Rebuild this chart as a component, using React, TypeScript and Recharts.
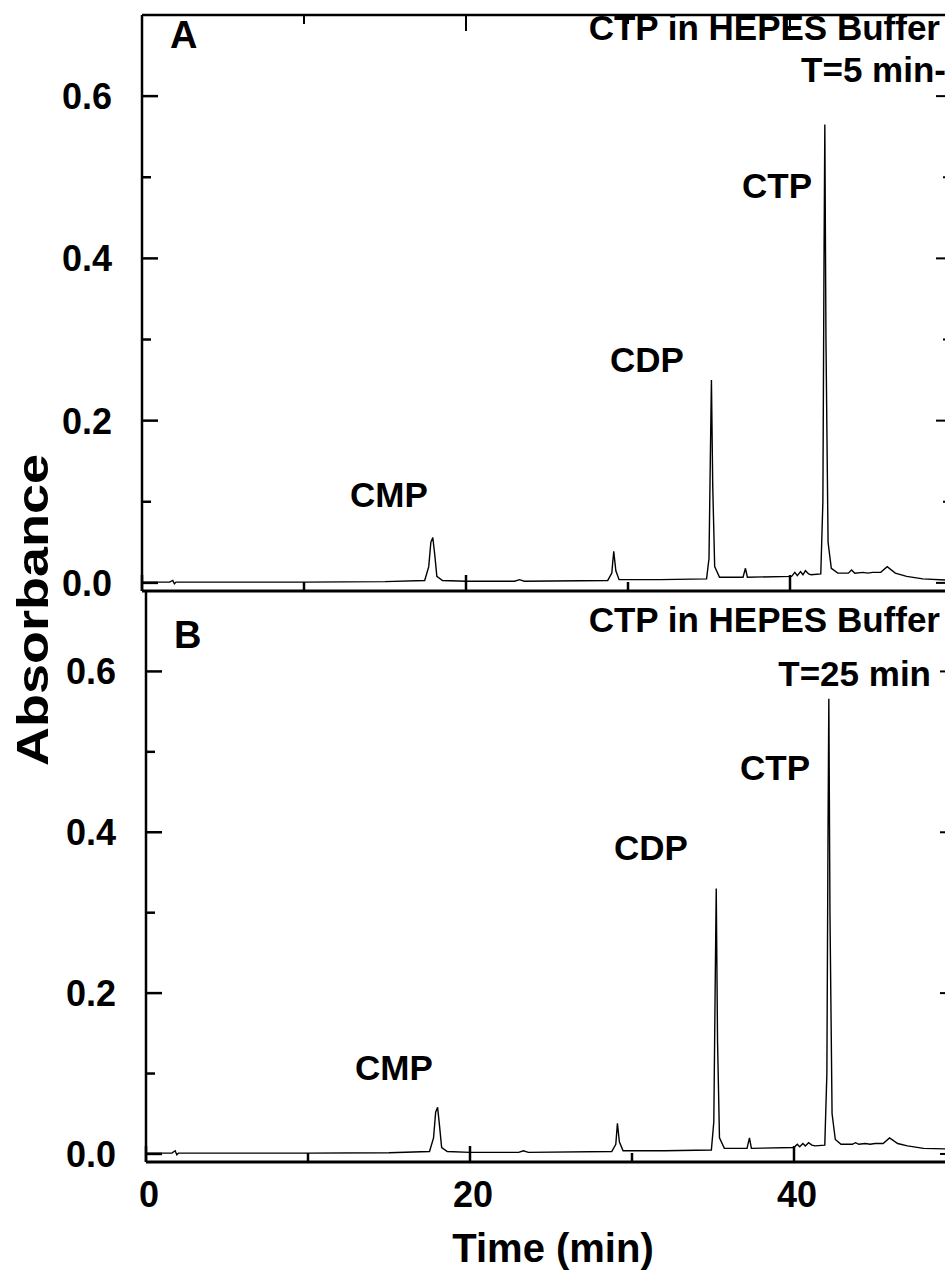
import React from 'react';
import { LineChart, Line, XAxis, YAxis, ReferenceLine } from 'recharts';

// ---- data: [time (min), absorbance] ----
const traceA: [number, number][] = [
  [0, 0.001], [1.7, 0.001], [1.9, 0.003], [2.0, -0.001], [2.1, 0.001], [2.3, 0.001],
  [5, 0.001], [10, 0.001], [15, 0.0015], [17.45, 0.003], [17.7, 0.02], [17.83, 0.05],
  [17.95, 0.056], [18.07, 0.035], [18.2, 0.008], [18.55, 0.003], [20, 0.002],
  [23.0, 0.002], [23.3, 0.004], [23.6, 0.002], [28.75, 0.003], [29.0, 0.012],
  [29.12, 0.039], [29.25, 0.015], [29.45, 0.004], [32, 0.004], [34.85, 0.005],
  [35.0, 0.03], [35.08, 0.15], [35.15, 0.25], [35.23, 0.12], [35.35, 0.02], [35.65, 0.007],
  [37.1, 0.007], [37.25, 0.018], [37.37, 0.007], [40.1, 0.008], [40.3, 0.013],
  [40.45, 0.009], [40.65, 0.014], [40.8, 0.01], [40.95, 0.015], [41.15, 0.011],
  [41.3, 0.01], [41.9, 0.011], [42.03, 0.1], [42.1, 0.4], [42.15, 0.565],
  [42.22, 0.3], [42.35, 0.05], [42.55, 0.018], [42.95, 0.012], [43.6, 0.012],
  [43.8, 0.016], [44.0, 0.012], [44.5, 0.013], [44.8, 0.012], [45.1, 0.013],
  [45.6, 0.013], [46.0, 0.02], [46.5, 0.012], [47.2, 0.008], [48.2, 0.005], [50.0, 0.003],
];

const traceB: [number, number][] = [
  [0, 0.001], [1.6, 0.001], [1.8, 0.004], [1.9, -0.001], [2.0, 0.001], [2.3, 0.001],
  [5, 0.001], [10, 0.001], [15, 0.0015], [17.5, 0.003], [17.75, 0.02], [17.88, 0.052],
  [18.0, 0.058], [18.12, 0.035], [18.25, 0.008], [18.6, 0.003], [20, 0.002],
  [23.0, 0.002], [23.3, 0.004], [23.6, 0.002], [28.75, 0.003], [29.0, 0.012],
  [29.1, 0.038], [29.22, 0.015], [29.45, 0.004], [32, 0.004], [34.9, 0.005],
  [35.05, 0.04], [35.13, 0.2], [35.2, 0.33], [35.28, 0.14], [35.4, 0.02], [35.7, 0.007],
  [37.1, 0.007], [37.25, 0.02], [37.37, 0.007], [40.0, 0.008], [40.2, 0.012],
  [40.35, 0.009], [40.55, 0.013], [40.7, 0.01], [40.9, 0.014], [41.1, 0.011],
  [41.3, 0.01], [41.9, 0.011], [42.03, 0.1], [42.1, 0.4], [42.15, 0.566],
  [42.22, 0.3], [42.35, 0.05], [42.55, 0.018], [42.9, 0.012], [43.6, 0.012],
  [43.8, 0.014], [44.0, 0.012], [44.4, 0.013], [44.7, 0.012], [45.0, 0.013],
  [45.5, 0.013], [45.9, 0.02], [46.4, 0.013], [47.0, 0.01], [48.0, 0.007], [50.0, 0.006],
];

const xMajorTicks = [0, 20, 40];
const xMinorTicks = [10, 30, 50];
const xTickLabels = ['0', '20', '40'];
const yMajorTicks = [0, 0.2, 0.4, 0.6];
const yMinorTicks = [0.1, 0.3, 0.5];
const yTickLabels = ['0.0', '0.2', '0.4', '0.6'];

const panelLetters = ['A', 'B'];
const panelTitles = ['CTP in HEPES Buffer', 'CTP in HEPES Buffer'];
const panelTimes = ['T=5 min-', 'T=25 min'];
const peakNames = ['CMP', 'CDP', 'CTP'];
const xTitle = 'Time (min)';
const yTitle = 'Absorbance';

// ---- layout ----
const W = 980;
const PX_PER_MIN = 16.2;
const PL_A = 142;
const PL_B = 146;
const A_TOP = 15;
const MID = 591;
const B_BOT = 1162;
const A_H = 640;
const PH_A = MID - A_TOP;
const PH_B = B_BOT - MID;
const YW = 60;
const XH = 5;
const FONT = "'Liberation Sans', Arial, Helvetica, sans-serif";
const X_DOMAIN: [number, number] = [0, 50];
const Y_DOMAIN: [number, number] = [-0.01, 0.7];
const PW = Math.round(PX_PER_MIN * (X_DOMAIN[1] - X_DOMAIN[0]));

const rowsA = traceA.map(([t, a]) => ({ t, a }));
const rowsB = traceB.map(([t, a]) => ({ t, a }));
const xTicks = [...xMajorTicks, ...xMinorTicks].sort((p, q) => p - q);
const yTicks = [...yMajorTicks, ...yMinorTicks].sort((p, q) => p - q);

const makeXTick = (ph: number, topTicks: boolean, labels: boolean) => (props: any) => {
  const { x, y, payload } = props;
  const v = payload.value;
  const mi = xMajorTicks.indexOf(v);
  const len = mi >= 0 ? 16 : 9;
  return (
    <g>
      <line x1={x} x2={x} y1={y} y2={y - len} stroke="#000" strokeWidth={2.5} />
      {topTicks && <line x1={x} x2={x} y1={y - ph} y2={y - ph + len} stroke="#000" strokeWidth={2} />}
      {labels && mi >= 0 && (
        <text x={x + 3} y={y + 45} textAnchor="middle" fontFamily={FONT} fontWeight="bold" fontSize={36} fill="#000">
          {xTickLabels[mi]}
        </text>
      )}
    </g>
  );
};

const YTick = (props: any) => {
  const { x, y, payload } = props;
  const v = payload.value;
  const mi = yMajorTicks.findIndex((m) => Math.abs(m - v) < 1e-9);
  const len = mi >= 0 ? 16 : 9;
  return (
    <g>
      <line x1={x} x2={x + len} y1={y} y2={y} stroke="#000" strokeWidth={2.5} />
      <line x1={x + PW} x2={x + PW - len} y1={y} y2={y} stroke="#000" strokeWidth={2} />
      {mi >= 0 && (
        <text x={x - 30} y={y + 13} textAnchor="end" fontFamily={FONT} fontWeight="bold" fontSize={36} fill="#000">
          {yTickLabels[mi]}
        </text>
      )}
    </g>
  );
};

const txt = (x: number, y: number, s: string, size: number, anchor: 'start' | 'middle' | 'end' = 'start') => (
  <text x={x} y={y} textAnchor={anchor} fontFamily={FONT} fontWeight="bold" fontSize={size} fill="#000">
    {s}
  </text>
);

const axesFor = (ph: number, topTicks: boolean, labels: boolean) => [
  <XAxis
    key="x"
    dataKey="t"
    type="number"
    domain={X_DOMAIN}
    ticks={xTicks}
    interval={0}
    allowDataOverflow
    height={XH}
    tickSize={0}
    tickMargin={0}
    tickLine={false}
    axisLine={{ stroke: '#000', strokeWidth: 3 }}
    tick={makeXTick(ph, topTicks, labels)}
  />,
  <YAxis
    key="y"
    type="number"
    domain={Y_DOMAIN}
    ticks={yTicks}
    interval={0}
    allowDataOverflow
    width={YW}
    tickSize={0}
    tickMargin={0}
    tickLine={false}
    axisLine={{ stroke: '#000', strokeWidth: 2.5 }}
    tick={YTick}
  />,
];

export default function App() {
  return (
    <div style={{ position: 'absolute', left: 0, top: 0, width: 945, height: 1281, overflow: 'hidden', background: '#fff' }}>
      <div style={{ position: 'absolute', left: 0, top: 0 }}>
        <LineChart
          width={W}
          height={A_H}
          data={rowsA}
          margin={{ top: A_TOP, right: W - PL_A - PW, bottom: A_H - MID - XH, left: PL_A - YW }}
        >
          {axesFor(PH_A, true, false)}
          <ReferenceLine y={0.7} stroke="#000" strokeWidth={2.5} />
          <ReferenceLine x={50} stroke="#000" strokeWidth={2.5} />
          <Line dataKey="a" type="linear" stroke="#000" strokeWidth={1.4} dot={false} isAnimationActive={false} />
          {txt(170, 48, panelLetters[0], 38)}
          {txt(940, 40, panelTitles[0], 35, 'end')}
          {txt(946, 82, panelTimes[0], 35, 'end')}
          {txt(742, 198, peakNames[2], 35)}
          {txt(610, 372, peakNames[1], 35)}
          {txt(350, 507, peakNames[0], 35)}
        </LineChart>
      </div>
      <div style={{ position: 'absolute', left: 0, top: 0 }}>
        <LineChart
          width={W}
          height={1281}
          data={rowsB}
          margin={{ top: MID, right: W - PL_B - PW, bottom: 1281 - B_BOT - XH, left: PL_B - YW }}
        >
          {axesFor(PH_B, false, true)}
          <ReferenceLine x={50} stroke="#000" strokeWidth={2.5} />
          <Line dataKey="a" type="linear" stroke="#000" strokeWidth={1.4} dot={false} isAnimationActive={false} />
          {txt(174, 648, panelLetters[1], 38)}
          {txt(940, 632, panelTitles[1], 35, 'end')}
          {txt(931, 686, panelTimes[1], 35, 'end')}
          {txt(740, 780, peakNames[2], 35)}
          {txt(614, 860, peakNames[1], 35)}
          {txt(355, 1080, peakNames[0], 35)}
          {txt(553, 1262, xTitle, 40, 'middle')}
          <text
            x={0}
            y={0}
            transform={`translate(48, 610) rotate(-90)`}
            textAnchor="middle"
            fontFamily={FONT}
            fontWeight="bold"
            fontSize={44}
            textLength={312}
            lengthAdjust="spacingAndGlyphs"
            fill="#000"
          >
            {yTitle}
          </text>
        </LineChart>
      </div>
    </div>
  );
}
